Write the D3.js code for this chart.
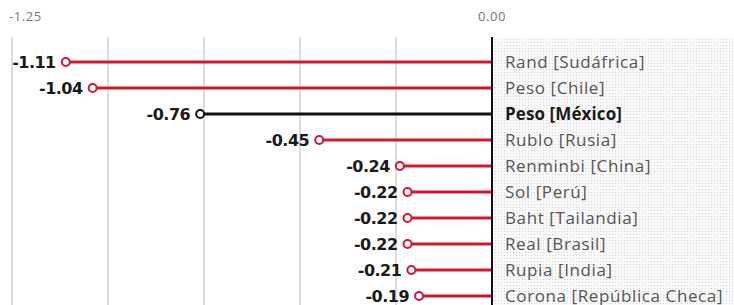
<!DOCTYPE html>
<html lang="es">
<head>
<meta charset="UTF-8">
<title>Divisas</title>
<script src="https://d3js.org/d3.v7.min.js"></script>
<style>
  body { margin: 0; background: #fff; }
  svg { display: block; }
  .tick-lbl { font-family: "Open Sans", sans-serif; font-size: 13px; fill: #6f7a88; letter-spacing: 0.6px; }
  .val { font-family: "DejaVu Sans", sans-serif; font-size: 16px; font-weight: bold; fill: #1a1a1a; letter-spacing: -0.5px; }
  .cat { font-family: "Open Sans", sans-serif; font-size: 17px; fill: #555; letter-spacing: 0.6px; }
  .cat.hl { font-weight: bold; fill: #1a1a1a; letter-spacing: 0.1px; }
</style>
</head>
<body>
<svg id="chart" width="734" height="305"></svg>
<script>
const monedas = ["Rand [Sudáfrica]", "Peso [Chile]", "Peso [México]", "Rublo [Rusia]", "Renminbi [China]",
  "Sol [Perú]", "Baht [Tailandia]", "Real [Brasil]", "Rupia [India]", "Corona [República Checa]"];
const valores = [-1.11, -1.04, -0.76, -0.45, -0.24, -0.22, -0.22, -0.22, -0.21, -0.19];
const destacado = "Peso [México]";
const ticks = [-1.25, -1.0, -0.75, -0.5, -0.25, 0];
const tickLabels = ["-1.25", "0.00"];

const svg = d3.select("#chart");
const W = 734, H = 305;
const plotTop = 37;

const x = d3.scaleLinear().domain([-1.25, 0]).range([12, 492]);
const y = d3.scaleBand().domain(monedas).range([49, 309]);

const red = "#d2182f";

// dotted background on the label side
const defs = svg.append("defs");
const pat = defs.append("pattern").attr("id", "dots")
  .attr("width", 3).attr("height", 3).attr("patternUnits", "userSpaceOnUse");
pat.append("rect").attr("width", 3).attr("height", 3).attr("fill", "#fafafa");
pat.append("rect").attr("width", 1).attr("height", 1).attr("fill", "#d6d6d6");
svg.append("rect").attr("x", x(0) + 2).attr("y", plotTop).attr("width", W - x(0) - 2).attr("height", H - plotTop)
  .attr("fill", "url(#dots)");

// gridlines
svg.append("g").selectAll("line").data(ticks.slice(0, -1)).join("line")
  .attr("x1", d => x(d)).attr("x2", d => x(d))
  .attr("y1", plotTop).attr("y2", H)
  .attr("stroke", "#d3d3d3").attr("stroke-width", 1.5);

// tick labels
svg.append("text").attr("class", "tick-lbl").attr("x", x(-1.25) - 3).attr("y", 21).text(tickLabels[0]);
svg.append("text").attr("class", "tick-lbl").attr("x", x(0)).attr("y", 21).attr("text-anchor", "middle").text(tickLabels[1]);

const rows = svg.append("g").selectAll("g").data(monedas).join("g")
  .attr("transform", d => `translate(0,${y(d) + y.bandwidth() / 2})`);

rows.append("line")
  .attr("x1", (d, i) => x(valores[i])).attr("x2", x(0))
  .attr("stroke", d => d === destacado ? "#111" : red).attr("stroke-width", 3);

rows.append("circle")
  .attr("cx", (d, i) => x(valores[i])).attr("r", 4)
  .attr("fill", "#fff").attr("stroke", d => d === destacado ? "#111" : red).attr("stroke-width", 2);

rows.append("text").attr("class", "val")
  .attr("x", (d, i) => x(valores[i]) - 10).attr("dy", "0.36em").attr("text-anchor", "end")
  .text((d, i) => valores[i].toFixed(2));

rows.append("text").attr("class", d => d === destacado ? "cat hl" : "cat")
  .attr("x", x(0) + 13).attr("dy", "0.36em")
  .text(d => d);

// zero axis
svg.append("line").attr("x1", x(0)).attr("x2", x(0)).attr("y1", plotTop).attr("y2", H)
  .attr("stroke", "#111").attr("stroke-width", 2);
</script>
</body>
</html>
